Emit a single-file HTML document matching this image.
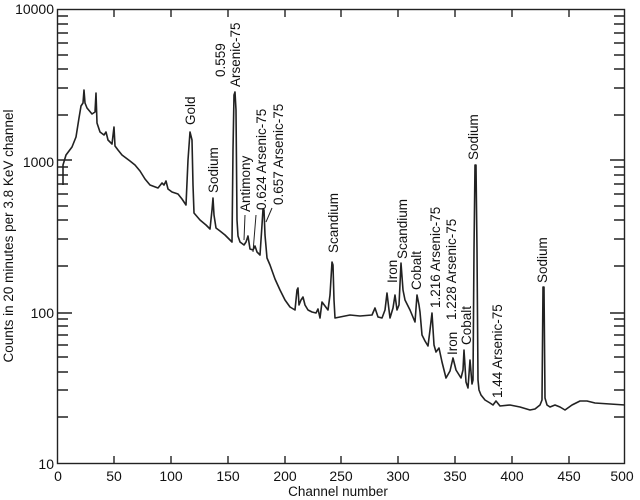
<!DOCTYPE html>
<html><head><meta charset="utf-8"><style>
html,body{margin:0;padding:0;background:#fff;}
svg{display:block;font-family:"Liberation Sans",Arial,sans-serif;}
</style></head><body>
<svg width="640" height="500" viewBox="0 0 640 500">
<g stroke="#222" stroke-width="1.4" fill="none">
<rect x="57.5" y="9.5" width="567" height="454"/>
<path d="M114,464v-8M171,464v-8M228,464v-8M285,464v-8M341,464v-8M398,464v-8M455,464v-8M512,464v-8M569,464v-8
M114,9v8M171,9v8M228,9v8M285,9v8M341,9v8M398,9v8M455,9v8M512,9v8M569,9v8"/>
<path d="M57,160h15M57,313h15
M57,417h11M57,390h11M57,372h11M57,357h11M57,345h11M57,335h11M57,326h11M57,319h11
M57,266h11M57,239h11M57,220h11M57,206h11M57,194h11M57,184h11M57,175h11M57,167h11
M57,115h11M57,88h11M57,69h11M57,55h11M57,43h11M57,33h11M57,24h11M57,16h11
M625,417h-11M625,390h-11M625,372h-11M625,357h-11M625,345h-11M625,335h-11M625,326h-11M625,319h-11M625,313h-15
M625,266h-11M625,239h-11M625,220h-11M625,206h-11M625,194h-11M625,184h-11M625,175h-11M625,167h-11M625,160h-15
M625,115h-11M625,88h-11M625,69h-11M625,55h-11M625,43h-11M625,33h-11M625,24h-11M625,16h-11"/>
</g>
<polyline fill="none" stroke="#222" stroke-width="1.6" stroke-linejoin="round" points="
63,185 63,165 66,155 72,147 76,137 79,118 81,106 83,103 84,90 85,103 87,108 92,114 95,112 96,93 97,123 100,132 104,135 106,132 108,140 112,144 114,127 115,146 118,150 122,155 130,161 135,165 140,171 145,179 150,185 158,188 162,183 164,185 166,181 168,189 172,192 178,194 182,199 186,205 188,160 190,132 192,140 193,185 194,213 200,220 206,225 210,229 212,210 213,198 214,215 216,228 220,231 225,235 230,240 232,242 233,150 234,95 235,92 236,110 237,220 238,236 240,242 244,245 246,242 248,236 250,249 253,250 255,246 257,252 260,255 262,225 263,209 264,210 265,235 267,258 270,265 275,279 280,290 285,300 290,307 295,310 297,290 298,288 299,305 301,300 303,297 305,305 308,310 312,312 316,313 318,309 320,318 322,302 325,306 328,310 330,295 332,262 333,265 334,300 335,318 340,317 350,315 360,316 372,315 375,308 378,317 382,318 385,310 387,293 389,310 390,318 393,308 395,295 397,310 399,305 401,263 403,290 405,300 410,310 415,322 417,295 419,305 420,312 422,335 425,341 428,346 430,330 432,313 434,345 436,352 439,348 442,362 446,378 450,371 453,358 456,370 461,378 463,370 464,350 466,382 468,388 470,360 472,384 473,380 474,250 475,165 476,165 477,250 478,380 479,390 481,395 485,400 490,403 493,405 496,401 500,406 510,405 520,407 530,410 535,409 540,405 542,400 543,287 544,287 545,398 547,405 550,407 555,405 560,407 565,410 572,405 580,401 587,401 595,403 610,404 625,405"/>
<g stroke="#222" stroke-width="1" fill="none">
<path d="M245,215L244,240M256,215L253,252M272,208L266,222"/>
</g>
<g font-size="13.5" fill="#111">
<text transform="translate(195,125) rotate(-90)">Gold</text>
<text transform="translate(218,193) rotate(-90)">Sodium</text>
<text transform="translate(225,77) rotate(-90)">0.559</text>
<text transform="translate(240,87) rotate(-90)">Arsenic-75</text>
<text transform="translate(250,212) rotate(-90)">Antimony</text>
<text transform="translate(266,210) rotate(-90)">0.624 Arsenic-75</text>
<text transform="translate(283,205) rotate(-90)">0.657 Arsenic-75</text>
<text transform="translate(338,253) rotate(-90)">Scandium</text>
<text transform="translate(397,283) rotate(-90)">Iron</text>
<text transform="translate(407,259) rotate(-90)">Scandium</text>
<text transform="translate(421,290) rotate(-90)">Cobalt</text>
<text transform="translate(440,308) rotate(-90)">1.216 Arsenic-75</text>
<text transform="translate(456,320) rotate(-90)">1.228 Arsenic-75</text>
<text transform="translate(457,355) rotate(-90)">Iron</text>
<text transform="translate(471,345) rotate(-90)">Cobalt</text>
<text transform="translate(478,160) rotate(-90)">Sodium</text>
<text transform="translate(502,398) rotate(-90)">1.44 Arsenic-75</text>
<text transform="translate(547,283) rotate(-90)">Sodium</text>
</g>
<g font-size="14" fill="#111" text-anchor="end">
<text x="54" y="14">10000</text>
<text x="54" y="167">1000</text>
<text x="54" y="318">100</text>
<text x="54" y="469">10</text>
</g>
<g font-size="14" fill="#111" text-anchor="middle">
<text x="58" y="481">0</text>
<text x="114" y="481">50</text>
<text x="171" y="481">100</text>
<text x="228" y="481">150</text>
<text x="285" y="481">200</text>
<text x="341" y="481">250</text>
<text x="398" y="481">300</text>
<text x="455" y="481">350</text>
<text x="512" y="481">400</text>
<text x="569" y="481">450</text>
<text x="622" y="481">500</text>
<text x="338" y="496" font-size="13.5">Channel number</text>
<text transform="translate(13,236) rotate(-90)" font-size="13.5">Counts in 20 minutes per 3.8 KeV channel</text>
</g>
</svg>
</body></html>
